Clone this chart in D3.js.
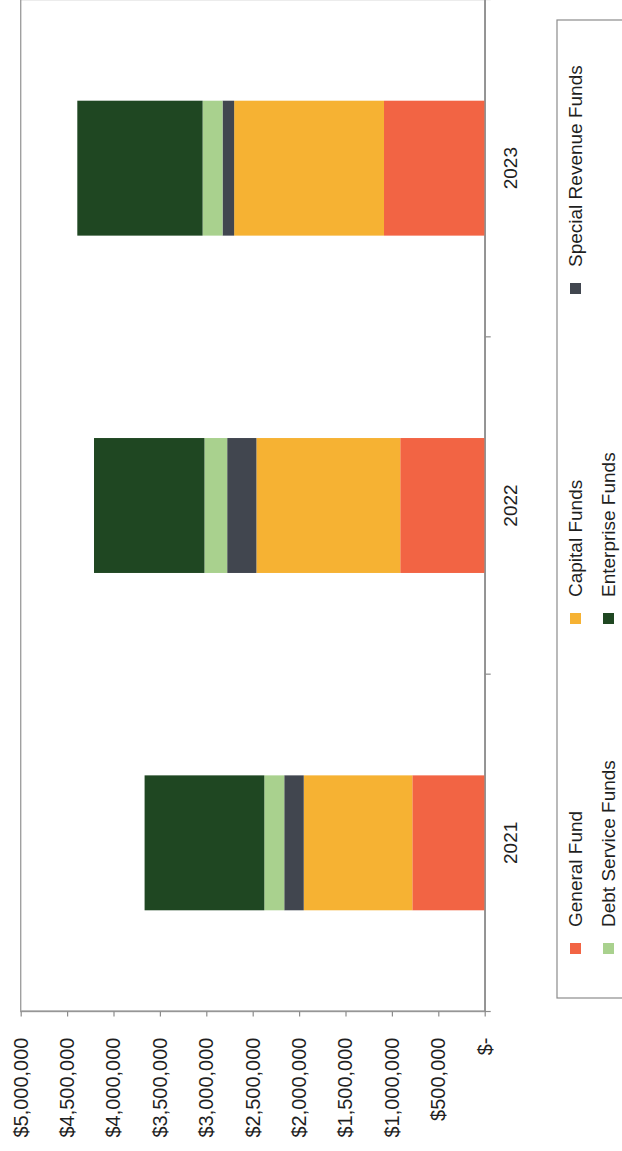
<!DOCTYPE html>
<html>
<head>
<meta charset="utf-8">
<script src="https://cdn.jsdelivr.net/npm/d3@7"></script>
<style>
  html, body { margin: 0; padding: 0; background: #ffffff; }
  svg { display: block; font-family: "Liberation Sans", Arial, sans-serif; }
</style>
</head>
<body>
<svg id="chart" width="622" height="1151"></svg>
<script>
// ---- data ----
const categories = ["2021", "2022", "2023"];
const seriesNames = ["General Fund", "Capital Funds", "Special Revenue Funds", "Debt Service Funds", "Enterprise Funds"];
const generalFund = [780000, 910000, 1085000];
const capitalFunds = [1170000, 1550000, 1615000];
const specialRevenueFunds = [210000, 315000, 125000];
const debtServiceFunds = [215000, 245000, 215000];
const enterpriseFunds = [1290000, 1190000, 1350000];
const valueTicks = [0, 500000, 1000000, 1500000, 2000000, 2500000, 3000000, 3500000, 4000000, 4500000, 5000000];
const tickLabels = ["$-", "$500,000", "$1,000,000", "$1,500,000", "$2,000,000", "$2,500,000", "$3,000,000", "$3,500,000", "$4,000,000", "$4,500,000", "$5,000,000"];
const seriesColors = ["#F26444", "#F6B233", "#41464F", "#A9D18E", "#1F4722"];
const legendOrder = ["General Fund", "Capital Funds", "Special Revenue Funds", "Debt Service Funds", "Enterprise Funds"];

// ---- build table ----
const seriesValues = [generalFund, capitalFunds, specialRevenueFunds, debtServiceFunds, enterpriseFunds];
const table = categories.map((c, i) => {
  const row = { category: c };
  seriesNames.forEach((s, j) => { row[s] = seriesValues[j][i]; });
  return row;
});
const color = d3.scaleOrdinal().domain(seriesNames).range(seriesColors);

const svg = d3.select("#chart");
const W = 1151; // rotated chart: original width = page height
// whole chart is drawn as a normal column chart, then rotated -90deg
const g = svg.append("g").attr("transform", `translate(0,${W}) rotate(-90)`);

const x = d3.scaleBand().domain(categories).range([139.5, 1151.5]).paddingInner(0.6).paddingOuter(0.3);
const y = d3.scaleLinear().domain([0, 5000000]).range([484.7, 20.7]);

const textColor = "#1f1f1f";
const lineColor = "#8c8c8c";

// plot border
g.append("rect")
  .attr("x", x.range()[0]).attr("y", y(5000000))
  .attr("width", x.range()[1] - x.range()[0]).attr("height", y(0) - y(5000000))
  .attr("fill", "none").attr("stroke", "#a0a0a0").attr("stroke-width", 1.4);

// stacked bars
const stack = d3.stack().keys(seriesNames);
const layers = stack(table);
g.append("g").selectAll("g").data(layers).join("g")
  .attr("fill", d => color(d.key))
  .selectAll("rect").data(d => d).join("rect")
  .attr("x", d => x(d.data.category))
  .attr("width", x.bandwidth())
  .attr("y", d => y(d[1]))
  .attr("height", d => y(d[0]) - y(d[1]));

// value axis
const yAxis = g.append("g").attr("transform", `translate(${x.range()[0]},0)`)
  .call(d3.axisLeft(y).tickValues(valueTicks).tickFormat((d, i) => tickLabels[i]).tickSize(5).tickSizeOuter(0).tickPadding(21));
yAxis.select(".domain").attr("stroke", lineColor).attr("stroke-width", 1.2);
yAxis.selectAll(".tick line").attr("stroke", lineColor).attr("stroke-width", 1.2);
yAxis.selectAll(".tick text").attr("fill", textColor).attr("font-size", 20).attr("font-family", "Liberation Sans, Arial, sans-serif");

// category axis
const xAxis = g.append("g").attr("transform", `translate(0,${y(0)})`)
  .call(d3.axisBottom(x).tickSize(0).tickSizeOuter(0).tickPadding(19));
xAxis.select(".domain").attr("stroke", lineColor).attr("stroke-width", 1.4);
xAxis.selectAll(".tick text").attr("fill", textColor).attr("font-size", 19).attr("font-family", "Liberation Sans, Arial, sans-serif");
const step = x.step();
const gap = (step - x.bandwidth()) / 2;
const boundaries = categories.map(c => x(c) - gap).concat([x(categories[categories.length - 1]) + x.bandwidth() + gap]);
xAxis.append("g").selectAll("line").data(boundaries).join("line")
  .attr("x1", d => d).attr("x2", d => d)
  .attr("y1", 0).attr("y2", 6)
  .attr("stroke", lineColor).attr("stroke-width", 1.2);

// legend
const legend = g.append("g");
legend.append("rect")
  .attr("x", 153).attr("y", 557).attr("width", 978).attr("height", 100)
  .attr("fill", "none").attr("stroke", "#8c8c8c").attr("stroke-width", 1.2);
const colX = [197, 527, 857];
const rowY = [570, 603];
const items = legend.selectAll("g.item").data(legendOrder).join("g").attr("class", "item")
  .attr("transform", (d, i) => `translate(${colX[i % 3]},${rowY[Math.floor(i / 3)]})`);
items.append("rect").attr("width", 11).attr("height", 11).attr("fill", d => color(d));
items.append("text").attr("x", 27).attr("y", 5.5).attr("dy", "0.36em")
  .attr("fill", textColor).attr("font-size", 19)
  .text(d => d);
</script>
</body>
</html>
